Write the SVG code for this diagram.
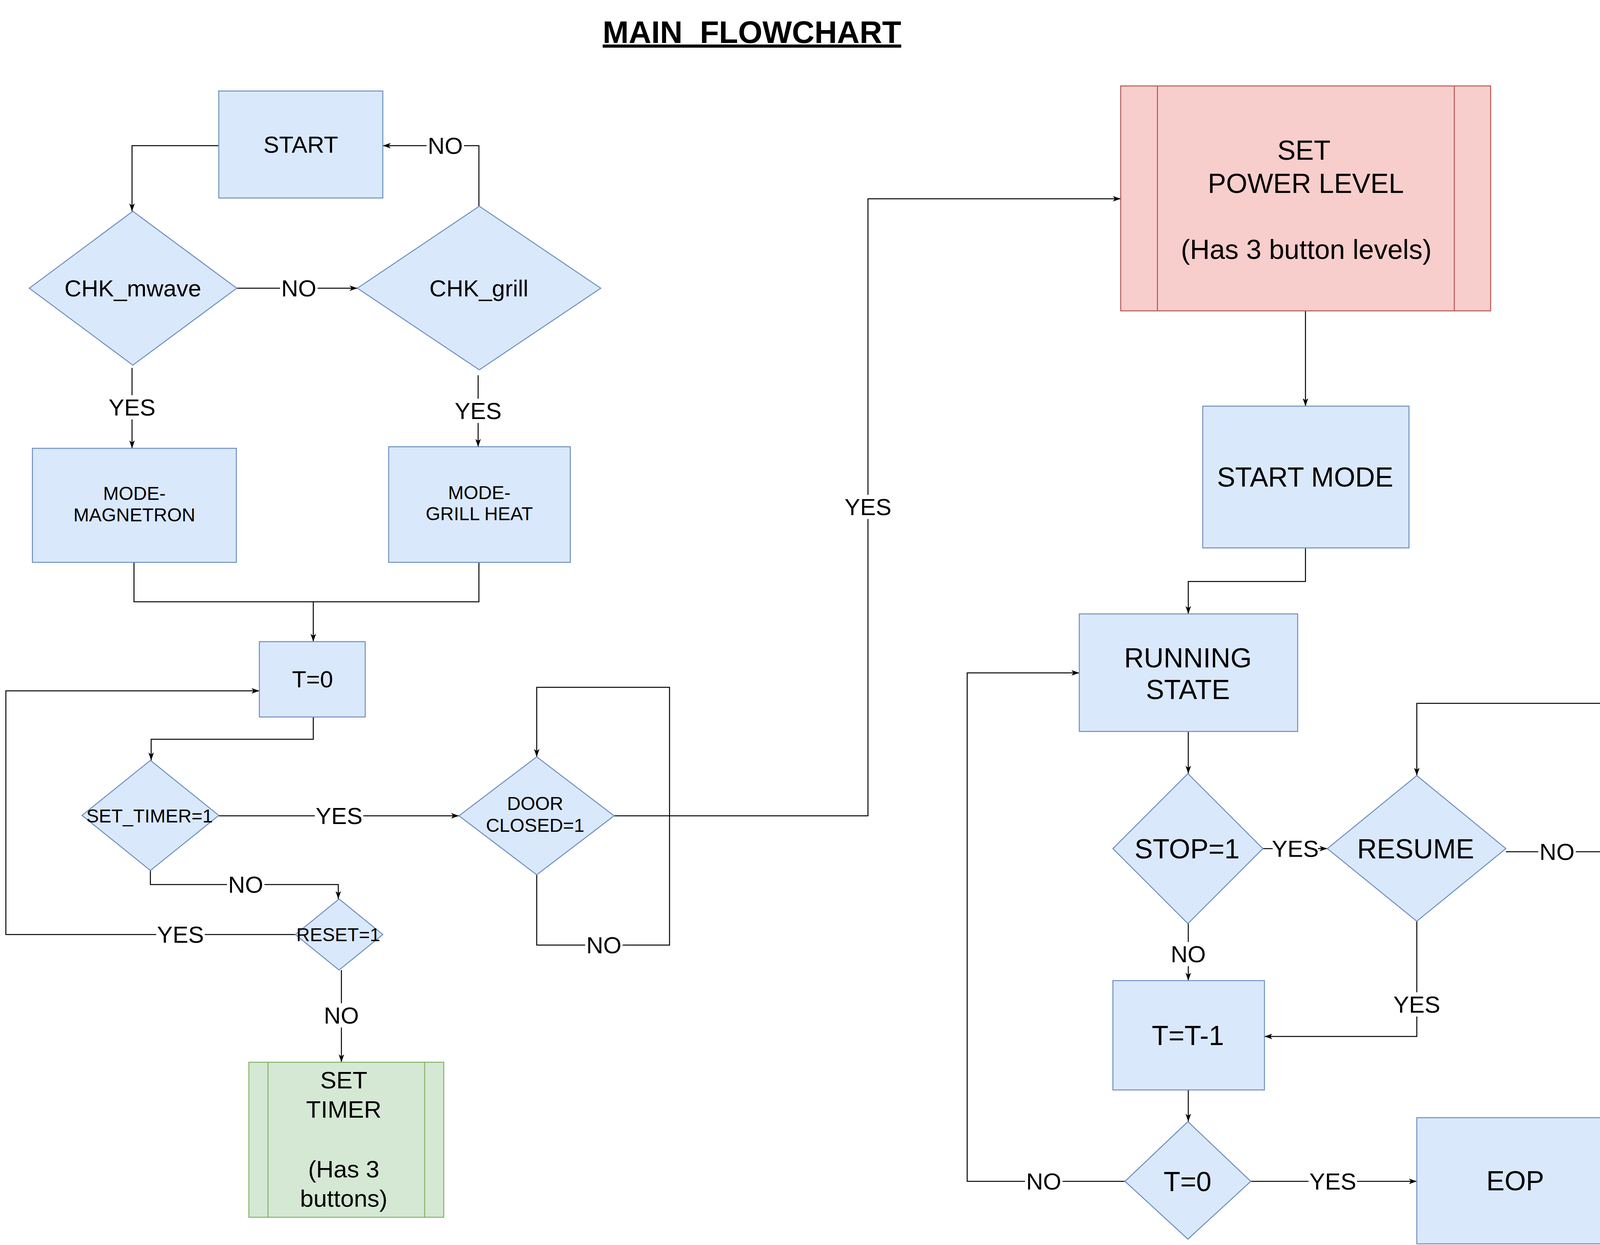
<svg xmlns="http://www.w3.org/2000/svg" width="4136" height="3188" viewBox="0 0 4136 3188">
<style>
text{font-family:"Liberation Sans",Arial,Helvetica,sans-serif;fill:#000;text-anchor:middle}
.b{fill:#dae8fc;stroke:#6c8ebf;stroke-width:2.5}
.r{fill:#f8cecc;stroke:#b85450;stroke-width:2.5}
.g{fill:#d5e8d4;stroke:#82b366;stroke-width:2.5}
.rl{stroke:#b85450;stroke-width:2.5}
.gl{stroke:#82b366;stroke-width:2.5}
.c{fill:none;stroke:#000;stroke-width:2.5}
.a{marker-end:url(#arr)}
.lb{fill:#fff;stroke:none}
.f60{font-size:60px}
.f48{font-size:48px}
.f62{font-size:62px}
.f70{font-size:70px}
</style>
<defs>
<marker id="arr" markerUnits="userSpaceOnUse" markerWidth="24" markerHeight="18" refX="20" refY="9" orient="auto">
<path d="M0,2 L20,9 L0,16 L5,9 z" fill="#000"/>
</marker>
</defs>
<rect width="4136" height="3188" fill="#fff"/>
<text x="1925" y="110" font-size="80" font-weight="bold" text-decoration="underline" xml:space="preserve">MAIN  FLOWCHART</text>

<g id="connectors">
<path class="c a" d="M560,373 H338 V541"/>
<path class="c a" d="M606,738 H915"/>
<path class="c a" d="M1226,528 V373 H980"/>
<path class="c a" d="M338,942 V1148"/>
<path class="c a" d="M1224,961 V1144"/>
<path class="c a" d="M343,1440 V1541 H802 V1643"/>
<path class="c" d="M1226,1440 V1541 H802"/>
<path class="c a" d="M802,1836 V1893 H387 V1947"/>
<path class="c a" d="M560,2089 H1175"/>
<path class="c a" d="M385,2229 V2265 H866 V2302"/>
<path class="c a" d="M756,2393 H15 V1769 H664"/>
<path class="c a" d="M874,2484 V2720"/>
<path class="c a" d="M1374,2240 V2420 H1714 V1760 H1374 V1938"/>
<path class="c a" d="M1572,2089 H2222 V509 H2869"/>
<path class="c a" d="M3342,796 V1040"/>
<path class="c a" d="M3342,1403 V1489 H3042 V1572"/>
<path class="c a" d="M3042,1873 V1981"/>
<path class="c a" d="M3233,2173 H3398"/>
<path class="c a" d="M3855,2181 H4114 V1801 H3627 V1986"/>
<path class="c a" d="M3627,2359 V2654 H3237"/>
<path class="c a" d="M3042,2365 V2511"/>
<path class="c a" d="M3042,2791 V2872"/>
<path class="c a" d="M2880,3025 H2476 V1723 H2763"/>
<path class="c a" d="M3202,3025 H3627"/>

<rect class="lb" x="717" y="711" width="96" height="54"/><text class="f60" x="765" y="759">NO</text>
<rect class="lb" x="1092" y="346" width="96" height="54"/><text class="f60" x="1140" y="394">NO</text>
<rect class="lb" x="276" y="1012" width="124" height="62"/><text class="f60" x="338" y="1064">YES</text>
<rect class="lb" x="1162" y="1021" width="124" height="62"/><text class="f60" x="1224" y="1073">YES</text>
<rect class="lb" x="806" y="2062" width="124" height="54"/><text class="f60" x="868" y="2110">YES</text>
<rect class="lb" x="581" y="2238" width="96" height="54"/><text class="f60" x="629" y="2286">NO</text>
<rect class="lb" x="400" y="2366" width="124" height="54"/><text class="f60" x="462" y="2414">YES</text>
<rect class="lb" x="826" y="2569" width="96" height="62"/><text class="f60" x="874" y="2621">NO</text>
<rect class="lb" x="1498" y="2393" width="96" height="54"/><text class="f60" x="1546" y="2441">NO</text>
<rect class="lb" x="2160" y="1267" width="124" height="62"/><text class="f60" x="2222" y="1319">YES</text>
<rect class="lb" x="3258" y="2148" width="116" height="50"/><text class="f60" x="3316" y="2194">YES</text>
<rect class="lb" x="3938" y="2154" width="96" height="54"/><text class="f60" x="3986" y="2202">NO</text>
<rect class="lb" x="3565" y="2541" width="124" height="62"/><text class="f60" x="3627" y="2593">YES</text>
<rect class="lb" x="2994" y="2412" width="96" height="62"/><text class="f60" x="3042" y="2464">NO</text>
<rect class="lb" x="2624" y="2998" width="96" height="54"/><text class="f60" x="2672" y="3046">NO</text>
<rect class="lb" x="3350" y="2998" width="124" height="54"/><text class="f60" x="3412" y="3046">YES</text>
</g>

<g id="start"><rect class="b" x="560" y="233" width="420" height="274"/><text class="f60" x="770" y="391">START</text></g>
<g id="chk_mwave"><polygon class="b" points="340,541 606,738 340,935 75,738"/><text class="f60" x="340" y="759">CHK_mwave</text></g>
<g id="chk_grill"><polygon class="b" points="1227,528 1538,738 1227,947 915,738"/><text class="f60" x="1226" y="759">CHK_grill</text></g>
<g id="mode_magnetron"><rect class="b" x="83" y="1148" width="522" height="292"/><text class="f48" x="344" y="1280">MODE-</text><text class="f48" x="344" y="1335">MAGNETRON</text></g>
<g id="mode_grill"><rect class="b" x="995" y="1144" width="465" height="296"/><text class="f48" x="1227" y="1278">MODE-</text><text class="f48" x="1227" y="1332">GRILL HEAT</text></g>
<g id="t_zero"><rect class="b" x="664" y="1643" width="271" height="193"/><text class="f60" x="800" y="1760">T=0</text></g>
<g id="set_timer_check"><polygon class="b" points="385,1947 560,2088 385,2229 210,2088"/><text class="f48" x="383" y="2106">SET_TIMER=1</text></g>
<g id="door_closed"><polygon class="b" points="1374,1938 1572,2089 1374,2240 1175,2089"/><text class="f48" x="1370" y="2074">DOOR</text><text class="f48" x="1370" y="2130">CLOSED=1</text></g>
<g id="reset_check"><polygon class="b" points="868,2302 980,2393 868,2484 756,2393"/><text class="f48" x="866" y="2410">RESET=1</text></g>
<g id="set_timer"><rect class="g" x="637" y="2720" width="499" height="397"/><line class="gl" x1="686" y1="2720" x2="686" y2="3117"/><line class="gl" x1="1087" y1="2720" x2="1087" y2="3117"/>
<text class="f62" x="880" y="2787">SET</text><text class="f62" x="880" y="2862">TIMER</text><text class="f62" x="880" y="3015">(Has 3</text><text class="f62" x="880" y="3090">buttons)</text></g>
<g id="set_power"><rect class="r" x="2869" y="220" width="947" height="576"/><line class="rl" x1="2963" y1="220" x2="2963" y2="796"/><line class="rl" x1="3723" y1="220" x2="3723" y2="796"/>
<text class="f70" x="3338" y="409">SET</text><text class="f70" x="3343" y="494">POWER LEVEL</text><text class="f70" x="3344" y="663">(Has 3 button levels)</text></g>
<g id="start_mode"><rect class="b" x="3079" y="1040" width="528" height="363"/><text class="f70" x="3341" y="1246">START MODE</text></g>
<g id="running_state"><rect class="b" x="2763" y="1572" width="559" height="301"/><text class="f70" x="3041" y="1709">RUNNING</text><text class="f70" x="3041" y="1790">STATE</text></g>
<g id="stop_check"><polygon class="b" points="3041,1981 3233,2173 3041,2365 2849,2173"/><text class="f70" x="3039" y="2198">STOP=1</text></g>
<g id="resume"><polygon class="b" points="3627,1986 3855,2173 3627,2359 3398,2173"/><text class="f70" x="3624" y="2198">RESUME</text></g>
<g id="t_minus"><rect class="b" x="2849" y="2511" width="388" height="280"/><text class="f70" x="3041" y="2676">T=T-1</text></g>
<g id="t_zero_check"><polygon class="b" points="3041,2872 3202,3025 3041,3173 2880,3025"/><text class="f70" x="3040" y="3050">T=0</text></g>
<g id="eop"><rect class="b" x="3627" y="2862" width="506" height="323"/><text class="f70" x="3879" y="3048">EOP</text></g>
</svg>
